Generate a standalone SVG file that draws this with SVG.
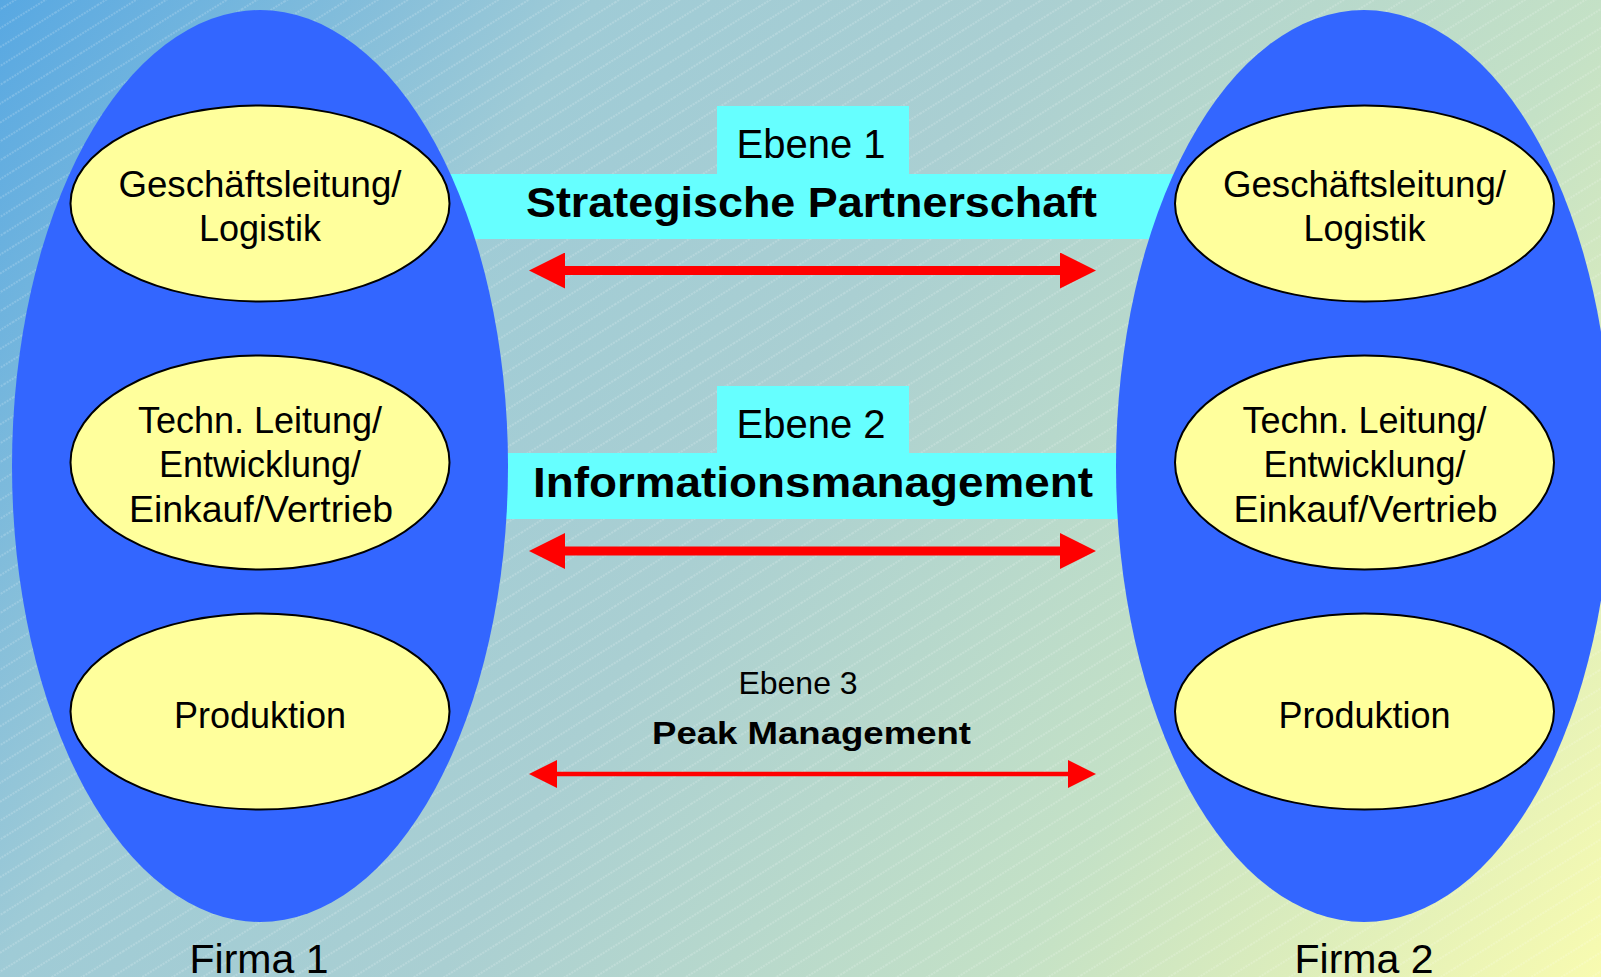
<svg xmlns="http://www.w3.org/2000/svg" width="1601" height="977" viewBox="0 0 1601 977">
<style>
.t{font-family:"Liberation Sans",Arial,sans-serif;fill:#000;text-anchor:middle}
.node{font-size:36px}
.eb{font-size:40px}
.bar{font-size:42px;font-weight:bold}
.firm{fill:#3366ff}
.sub{fill:#ffff9c;stroke:#000;stroke-width:2}
.cy{fill:#66ffff}
.arr{stroke:#ff0000;fill:none}
</style>
<defs>
<linearGradient id="bg" gradientUnits="userSpaceOnUse" x1="0" y1="0" x2="1601" y2="977">
<stop offset="0" stop-color="#58a8e2"/>
<stop offset="0.27" stop-color="#9fcbd6"/>
<stop offset="0.47" stop-color="#aacfd2"/>
<stop offset="0.73" stop-color="#c4e1c6"/>
<stop offset="1" stop-color="#f8fbb0"/>
</linearGradient>
<pattern id="hatch" patternUnits="userSpaceOnUse" width="40" height="16" patternTransform="rotate(-32)">
<line x1="0" y1="8" x2="40" y2="8" stroke="#ffffff" stroke-opacity="0.35" stroke-width="1" stroke-dasharray="2 1"/>
</pattern>
<marker id="hBig" markerUnits="userSpaceOnUse" markerWidth="36" markerHeight="36" refX="0" refY="18" orient="auto-start-reverse" viewBox="0 0 36 36">
<path d="M0,0 L36,18 L0,36 z" fill="#ff0000"/>
</marker>
<marker id="hSmall" markerUnits="userSpaceOnUse" markerWidth="28" markerHeight="28" refX="0" refY="14" orient="auto-start-reverse" viewBox="0 0 28 28">
<path d="M0,0 L28,14 L0,28 z" fill="#ff0000"/>
</marker>
</defs>
<rect width="1601" height="977" fill="url(#bg)"/>
<rect width="1601" height="977" fill="url(#hatch)"/>

<g id="ebene1">
<rect class="cy" x="717" y="106" width="192" height="69"/>
<rect class="cy" x="440" y="174" width="745" height="65"/>
</g>
<g id="ebene2">
<rect class="cy" x="717" y="386" width="192" height="68"/>
<rect class="cy" x="480" y="453" width="660" height="66"/>
</g>

<g id="firma1">
<ellipse class="firm" cx="260" cy="466" rx="248" ry="456"/>
<text class="t" x="259" y="973" font-size="41">Firma 1</text>
</g>
<g id="firma2">
<ellipse class="firm" cx="1364" cy="466" rx="248" ry="456"/>
<text class="t" x="1364" y="973" font-size="41">Firma 2</text>
</g>

<g id="f1-gl">
<ellipse class="sub" cx="260" cy="203.5" rx="189.5" ry="98"/>
<text class="t node" x="260" y="197" textLength="283" lengthAdjust="spacingAndGlyphs">Geschäftsleitung/</text>
<text class="t node" x="260" y="241">Logistik</text>
</g>
<g id="f1-tl">
<ellipse class="sub" cx="260" cy="462.5" rx="189.5" ry="107"/>
<text class="t node" x="260" y="433">Techn. Leitung/</text>
<text class="t node" x="260" y="477">Entwicklung/</text>
<text class="t node" x="261" y="521.5" textLength="264" lengthAdjust="spacingAndGlyphs">Einkauf/Vertrieb</text>
</g>
<g id="f1-pr">
<ellipse class="sub" cx="260" cy="711.5" rx="189.5" ry="98"/>
<text class="t node" x="260" y="728">Produktion</text>
</g>

<g id="f2-gl">
<ellipse class="sub" cx="1364.5" cy="203.5" rx="189.5" ry="98"/>
<text class="t node" x="1364.5" y="197" textLength="283" lengthAdjust="spacingAndGlyphs">Geschäftsleitung/</text>
<text class="t node" x="1364.5" y="241">Logistik</text>
</g>
<g id="f2-tl">
<ellipse class="sub" cx="1364.5" cy="462.5" rx="189.5" ry="107"/>
<text class="t node" x="1364.5" y="433">Techn. Leitung/</text>
<text class="t node" x="1364.5" y="477">Entwicklung/</text>
<text class="t node" x="1365.5" y="521.5" textLength="264" lengthAdjust="spacingAndGlyphs">Einkauf/Vertrieb</text>
</g>
<g id="f2-pr">
<ellipse class="sub" cx="1364.5" cy="711.5" rx="189.5" ry="98"/>
<text class="t node" x="1364.5" y="728">Produktion</text>
</g>

<g id="labels">
<text class="t eb" x="811" y="158">Ebene 1</text>
<text class="t bar" x="811.5" y="216.5" textLength="571" lengthAdjust="spacingAndGlyphs">Strategische Partnerschaft</text>
<text class="t eb" x="811" y="438">Ebene 2</text>
<text class="t bar" x="813" y="497" textLength="560" lengthAdjust="spacingAndGlyphs">Informationsmanagement</text>
<text class="t" x="798" y="694" font-size="32">Ebene 3</text>
<text class="t" x="811.5" y="744" font-size="32" font-weight="bold" textLength="319" lengthAdjust="spacingAndGlyphs">Peak Management</text>
</g>

<g id="connectors">
<line class="arr" x1="565" y1="270.5" x2="1060" y2="270.5" stroke-width="9" marker-start="url(#hBig)" marker-end="url(#hBig)"/>
<line class="arr" x1="565" y1="551" x2="1060" y2="551" stroke-width="9" marker-start="url(#hBig)" marker-end="url(#hBig)"/>
<line class="arr" x1="557" y1="774" x2="1068" y2="774" stroke-width="4.5" marker-start="url(#hSmall)" marker-end="url(#hSmall)"/>
</g>
</svg>
